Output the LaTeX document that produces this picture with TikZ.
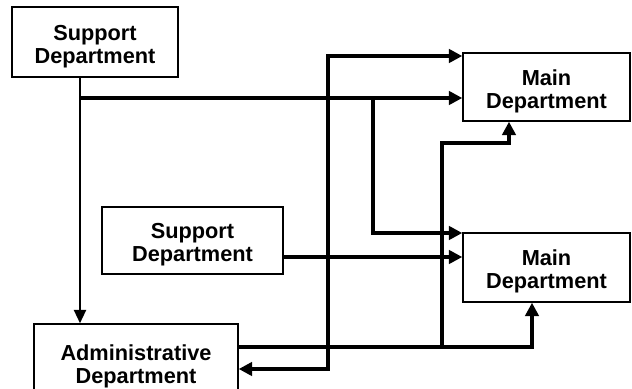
\documentclass[tikz,border=0pt]{standalone}
\usepackage{fontspec}
\setmainfont{Liberation Sans}
\usetikzlibrary{arrows.meta}
\newcommand{\dnstrut}{\rule{0pt}{18pt}}
\begin{document}
\begin{tikzpicture}[x=0.75pt,y=-0.75pt,
  box/.style={draw,line width=1.1pt,align=center,inner sep=0pt,
    font=\bfseries\fontsize{16.3}{17.5}\selectfont},
  conn/.style={line width=2.6pt,-{Triangle[length=10pt,width=10pt]}},
  thinconn/.style={line width=1.6pt,-{Triangle[length=10pt,width=9pt]}},
  both/.style={line width=2.6pt,{Triangle[length=10pt,width=10pt]}-{Triangle[length=10pt,width=10pt]}}]
\useasboundingbox (0,0) rectangle (632,389);
% boxes
\node[box,minimum width=124.5pt,minimum height=52.5pt] (S1) at (95,42) {\dnstrut Support\\Department};
\node[box,minimum width=125.25pt,minimum height=51pt] (M1) at (546.5,87) {\dnstrut Main\\Department};
\node[box,minimum width=135.75pt,minimum height=50.25pt] (S2) at (192.5,240.5) {\dnstrut Support\\Department};
\node[box,minimum width=125.25pt,minimum height=51.75pt] (M2) at (546.5,267.5) {\dnstrut Main\\Department};
\node[box,minimum width=153pt,minimum height=57pt] (A) at (136,362) {\dnstrut Administrative\\Department};
% helper coordinates
\coordinate (x80) at (80,0);
\coordinate (j1) at (80,98);
\coordinate (j2) at (373,98);
\coordinate (j3) at (373,233);
\coordinate (y257) at (0,257);
\coordinate (y369) at (0,369);
\coordinate (y347) at (0,347);
\coordinate (t56) at (328,56);
\coordinate (b369) at (328,369);
\coordinate (c347) at (442,347);
\coordinate (c143) at (442,143);
\coordinate (d143) at (509,143);
\coordinate (e347) at (532,347);
% connectors
\draw[thinconn] (S1.south -| x80) -- (A.north -| x80);
\draw[conn] (j1) -- (M1.west |- j1);
\draw[conn] (j2) -- (j3) -- (M2.west |- j3);
\draw[conn] (S2.east |- y257) -- (M2.west |- y257);
\draw[both] (A.east |- y369) -- (b369) -- (t56) -- (M1.west |- t56);
\draw[conn] (A.east |- y347) -- (e347) -- (M2.south -| e347);
\draw[conn] (c347) -- (c143) -- (d143) -- (M1.south -| d143);
\end{tikzpicture}
\end{document}
